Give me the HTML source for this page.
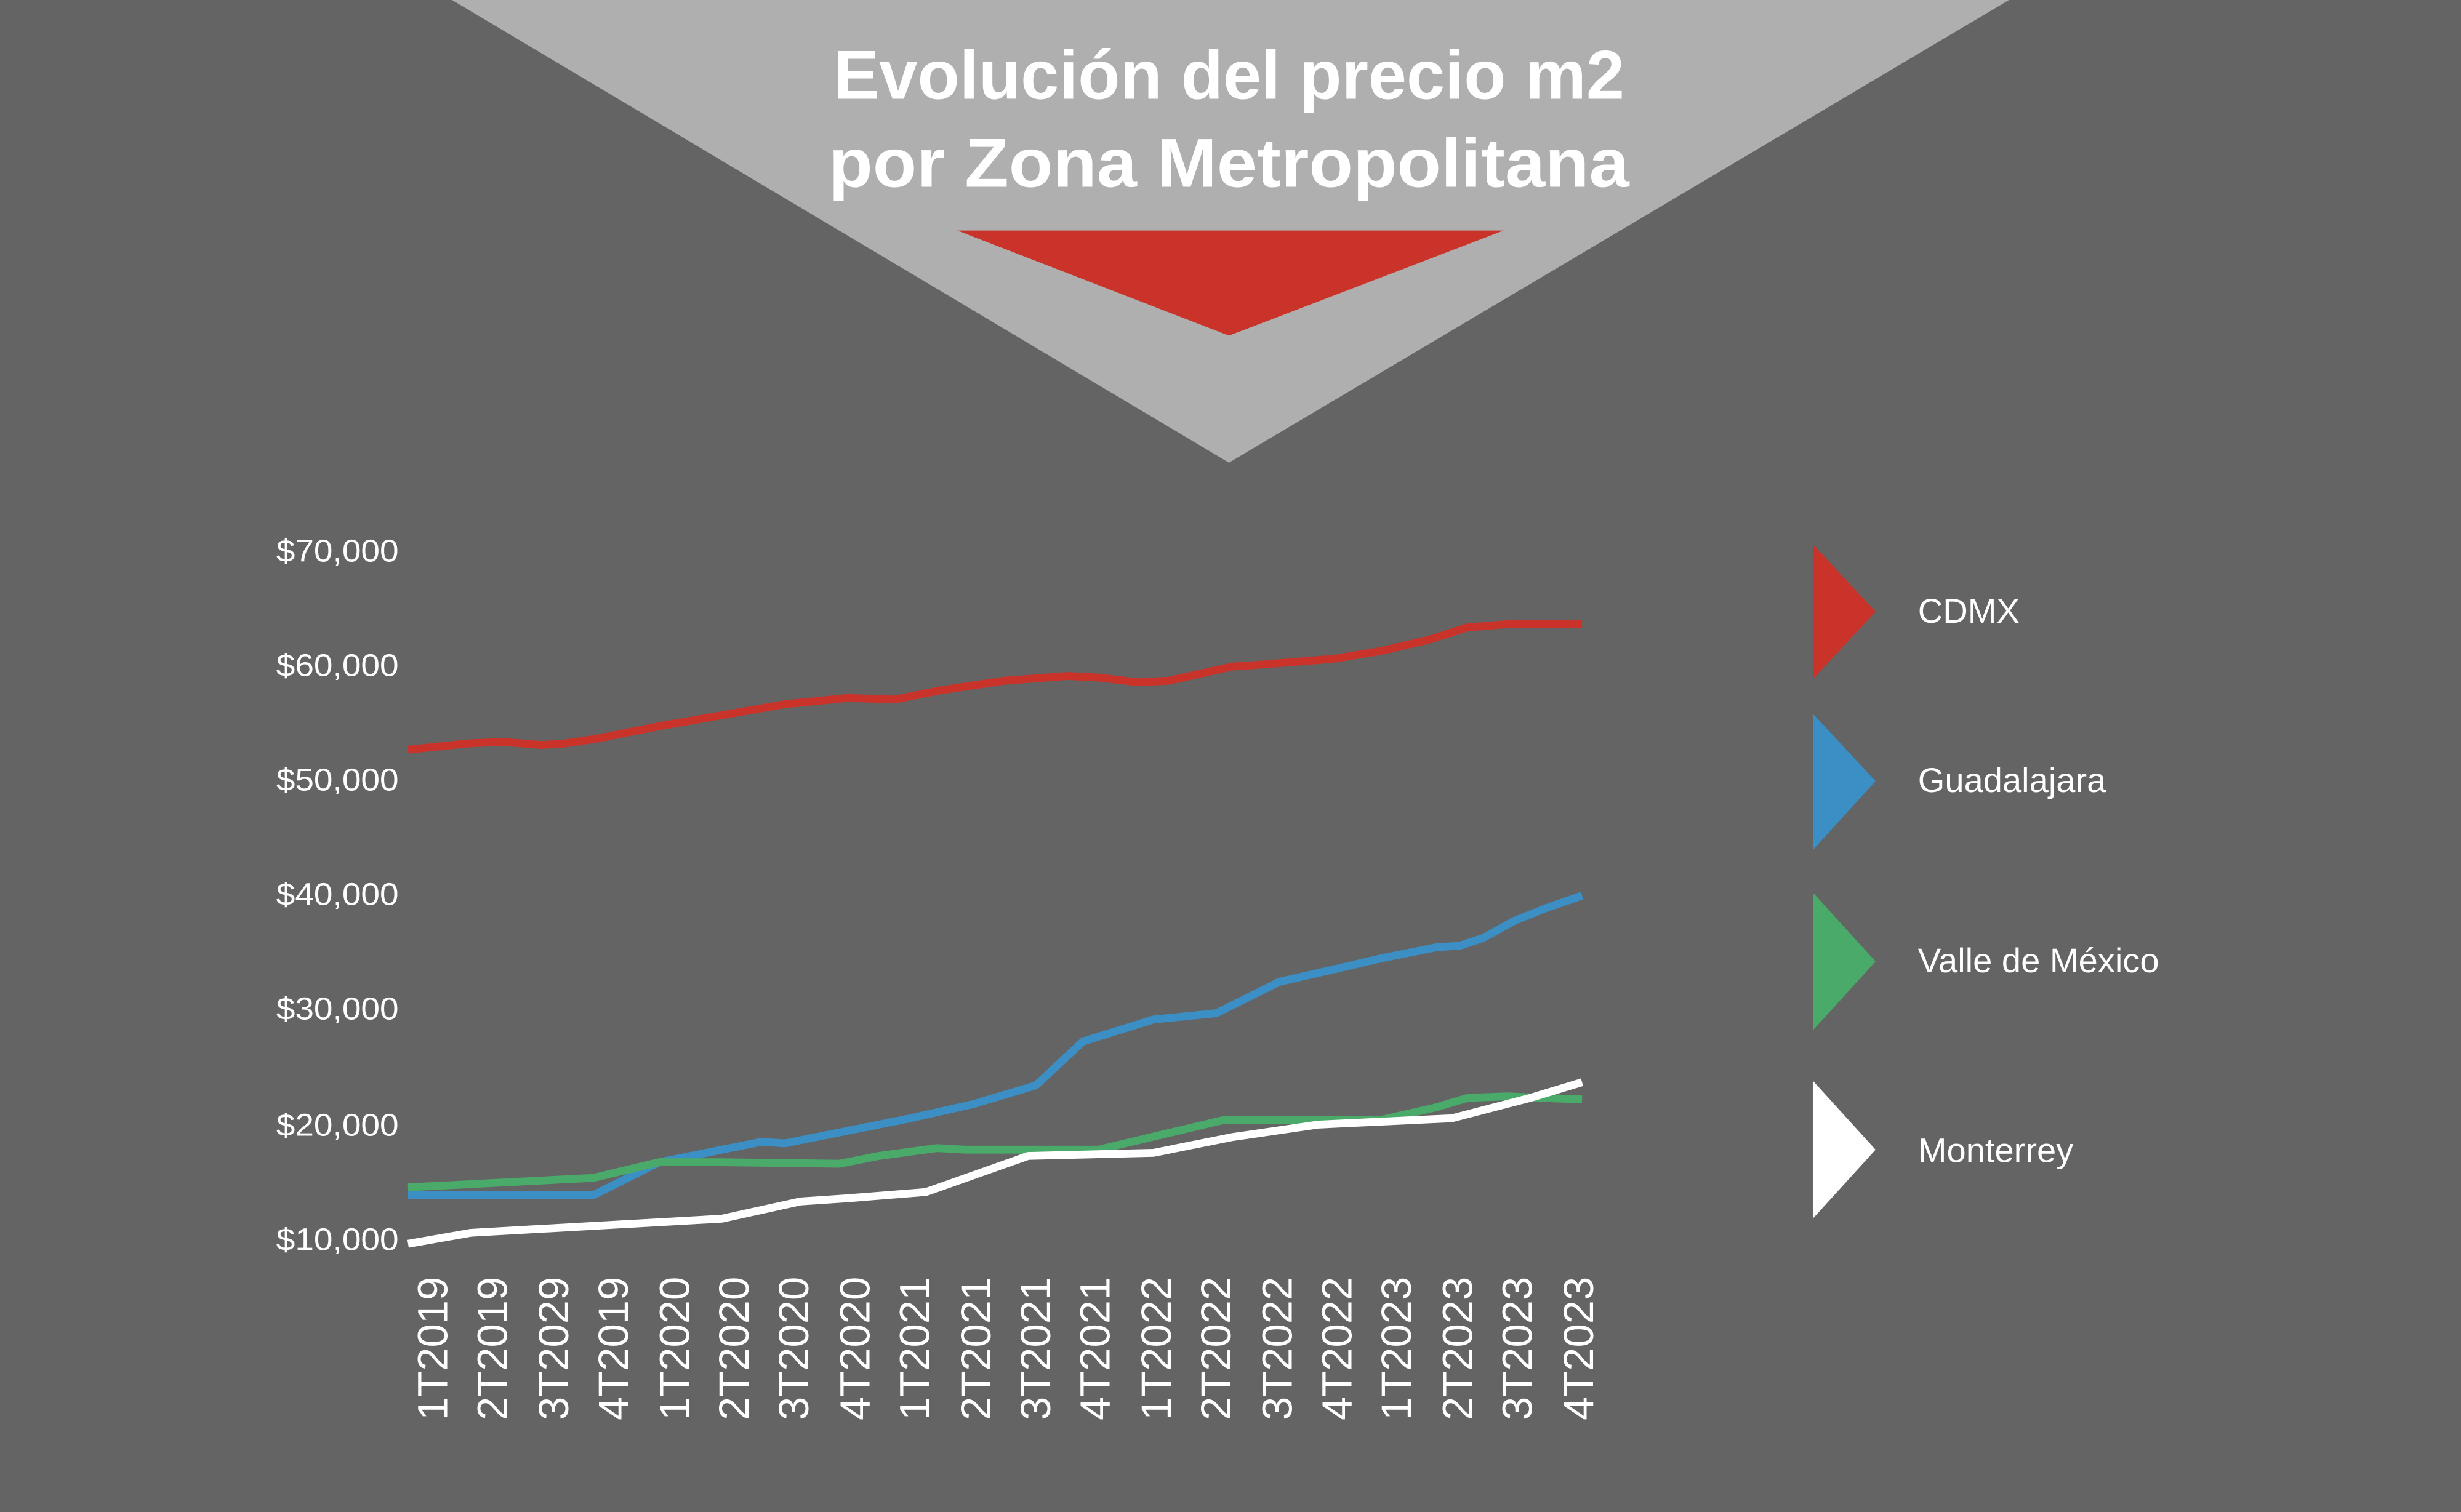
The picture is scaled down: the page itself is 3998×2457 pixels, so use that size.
<!DOCTYPE html>
<html><head><meta charset="utf-8"><style>
html,body{margin:0;padding:0;background:#646464;}
svg{display:block;}
</style></head><body>
<svg width="3998" height="2457" viewBox="0 0 1568 964" preserveAspectRatio="none" xmlns="http://www.w3.org/2000/svg">
<rect width="1568" height="964" fill="#646464"/>
<polygon points="288,0 1280,0 783,295" fill="#afafaf"/>
<polygon points="610,147 958,147 783,214" fill="#c9332a"/>
<g font-family="Liberation Sans, sans-serif" font-weight="bold" fill="#fff" font-size="44" text-anchor="middle">
<text x="783" y="63" textLength="504" lengthAdjust="spacingAndGlyphs">Evolución del precio m2</text>
<text x="783" y="119" textLength="510" lengthAdjust="spacingAndGlyphs">por Zona Metropolitana</text>
</g>
<g font-family="Liberation Sans, sans-serif" fill="#fff" font-size="20" text-anchor="end">
<text x="254" y="358" textLength="78" lengthAdjust="spacingAndGlyphs">$70,000</text>
<text x="254" y="431" textLength="78" lengthAdjust="spacingAndGlyphs">$60,000</text>
<text x="254" y="504" textLength="78" lengthAdjust="spacingAndGlyphs">$50,000</text>
<text x="254" y="577" textLength="78" lengthAdjust="spacingAndGlyphs">$40,000</text>
<text x="254" y="650" textLength="78" lengthAdjust="spacingAndGlyphs">$30,000</text>
<text x="254" y="724" textLength="78" lengthAdjust="spacingAndGlyphs">$20,000</text>
<text x="254" y="797" textLength="78" lengthAdjust="spacingAndGlyphs">$10,000</text>
</g>
<g font-family="Liberation Sans, sans-serif" fill="#fff" font-size="27" text-anchor="end">
<text transform="translate(285,814) rotate(-90)">1T2019</text>
<text transform="translate(323,814) rotate(-90)">2T2019</text>
<text transform="translate(362,814) rotate(-90)">3T2029</text>
<text transform="translate(400,814) rotate(-90)">4T2019</text>
<text transform="translate(439,814) rotate(-90)">1T2020</text>
<text transform="translate(477,814) rotate(-90)">2T2020</text>
<text transform="translate(515,814) rotate(-90)">3T2020</text>
<text transform="translate(554,814) rotate(-90)">4T2020</text>
<text transform="translate(592,814) rotate(-90)">1T2021</text>
<text transform="translate(631,814) rotate(-90)">2T2021</text>
<text transform="translate(669,814) rotate(-90)">3T2021</text>
<text transform="translate(707,814) rotate(-90)">4T2021</text>
<text transform="translate(746,814) rotate(-90)">1T2022</text>
<text transform="translate(784,814) rotate(-90)">2T2022</text>
<text transform="translate(823,814) rotate(-90)">3T2022</text>
<text transform="translate(861,814) rotate(-90)">4T2022</text>
<text transform="translate(899,814) rotate(-90)">1T2023</text>
<text transform="translate(938,814) rotate(-90)">2T2023</text>
<text transform="translate(976,814) rotate(-90)">3T2023</text>
<text transform="translate(1015,814) rotate(-90)">4T2023</text>
</g>
<g fill="none" stroke-width="5" stroke-linejoin="round">
<polyline stroke="#c9332a" points="260,478 298,474 320,473 345,475 360,474 380,471 420,463 460,456 500,449 540,445 570,446 600,440 640,434 680,431 700,432 725,435 745,434 785,425 800,424 850,420 880,415 910,408 935,400 960,398 1008,398"/>
<polyline stroke="#3b8fc4" points="260,762 378,762 420,741 460,733 485,728 500,729 540,721 580,713 620,704 660,692 690,664 735,650 775,646 815,626 850,618 880,611 915,604 930,603 945,598 965,587 985,579 1008,571"/>
<polyline stroke="#4aaa6a" points="260,757 378,751 420,741 460,741 535,742 560,737 597,732 615,733 700,733 780,714 880,714 915,706 935,700 960,699 1008,701"/>
<polyline stroke="#ffffff" points="260,793 300,786 460,777 510,766 540,764 590,760 655,737 735,735 785,725 840,717 925,713 975,700 1008,690"/>
</g>
<polygon points="1155,347 1155,433 1195,390" fill="#c9332a"/>
<polygon points="1155,455 1155,542 1195,498" fill="#3b8fc4"/>
<polygon points="1155,569 1155,657 1195,613" fill="#4aaa6a"/>
<polygon points="1155,689 1155,777 1195,733" fill="#ffffff"/>
<g font-family="Liberation Sans, sans-serif" fill="#fff" font-size="22">
<text x="1222" y="397">CDMX</text>
<text x="1222" y="505">Guadalajara</text>
<text x="1222" y="620">Valle de México</text>
<text x="1222" y="741">Monterrey</text>
</g>
</svg>
</body></html>
